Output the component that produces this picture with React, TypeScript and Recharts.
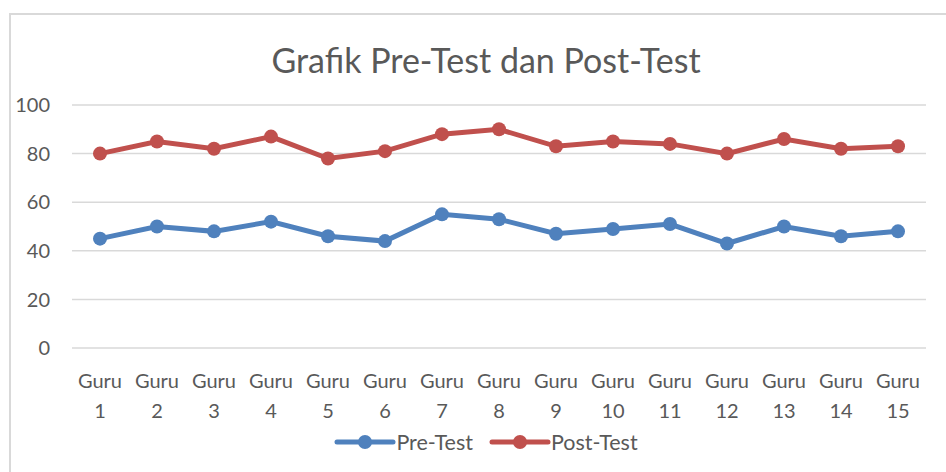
import React from 'react';
import { LineChart, Line, XAxis, YAxis, CartesianGrid } from 'recharts';

const categories = ['Guru 1', 'Guru 2', 'Guru 3', 'Guru 4', 'Guru 5', 'Guru 6', 'Guru 7', 'Guru 8', 'Guru 9', 'Guru 10', 'Guru 11', 'Guru 12', 'Guru 13', 'Guru 14', 'Guru 15'];
const preTest = [45, 50, 48, 52, 46, 44, 55, 53, 47, 49, 51, 43, 50, 46, 48];
const postTest = [80, 85, 82, 87, 78, 81, 88, 90, 83, 85, 84, 80, 86, 82, 83];
const yTicks = [0, 20, 40, 60, 80, 100];

const BLUE = '#4f81bd';
const RED = '#c0504d';
const TEXT = '#595959';
const FONT = 'Lato, "Open Sans", sans-serif';

const data = categories.map((name, i) => ({ name, pre: preTest[i], post: postTest[i] }));

const GuruTick = ({ x, y, payload }: any) => {
  const [a, b] = String(payload.value).split(' ');
  return (
    <text x={x} y={y} textAnchor="middle" fill={TEXT} fontSize={20} fontFamily={FONT}>
      <tspan x={x} dy={32}>{a}</tspan>
      <tspan x={x} dy={30}>{b}</tspan>
    </text>
  );
};

const LegendItem = ({ color, label }: { color: string; label: string }) => (
  <div style={{ display: 'flex', alignItems: 'center', marginRight: 16 }}>
    <svg width={62} height={16}>
      <line x1={3} y1={8} x2={59} y2={8} stroke={color} strokeWidth={5} strokeLinecap="round" />
      <circle cx={31} cy={8} r={7} fill={color} />
    </svg>
    <span style={{ fontSize: 21.5, color: TEXT, fontFamily: FONT, marginLeft: 0 }}>{label}</span>
  </div>
);

export default function App() {
  return (
    <div style={{ position: 'absolute', left: 0, top: 0, width: 946, height: 472, overflow: 'hidden', background: '#fff' }}>
      <div style={{ position: 'absolute', left: 9, top: 13, width: 1000, height: 500, border: '2px solid #d9d9d9' }} />
      <div style={{ position: 'absolute', left: 0, top: 39, width: 972, textAlign: 'center', fontSize: 34, color: TEXT, fontFamily: FONT }}>
        Grafik Pre-Test dan Post-Test
      </div>
      <div style={{ position: 'absolute', left: 0, top: 0 }}>
        <LineChart width={946} height={472} data={data} margin={{ top: 105, right: 20, bottom: 44, left: 0 }}>
          <CartesianGrid vertical={false} stroke="#d9d9d9" strokeWidth={1.5} />
          <XAxis dataKey="name" axisLine={false} tickLine={false} interval={0} height={80} tick={<GuruTick />} padding={{ left: 28, right: 28 }} />
          <YAxis domain={[0, 100]} ticks={yTicks} width={72} axisLine={false} tickLine={false} tickMargin={16}
            tick={{ fill: TEXT, fontSize: 20, fontFamily: FONT }} />
          <Line dataKey="pre" stroke={BLUE} strokeWidth={5} dot={{ r: 7, fill: BLUE, stroke: BLUE, strokeWidth: 0 }} isAnimationActive={false} />
          <Line dataKey="post" stroke={RED} strokeWidth={5} dot={{ r: 7, fill: RED, stroke: RED, strokeWidth: 0 }} isAnimationActive={false} />
        </LineChart>
      </div>
      <div style={{ position: 'absolute', left: 8, top: 429, width: 972, display: 'flex', justifyContent: 'center' }}>
        <LegendItem color={BLUE} label="Pre-Test" />
        <LegendItem color={RED} label="Post-Test" />
      </div>
    </div>
  );
}
